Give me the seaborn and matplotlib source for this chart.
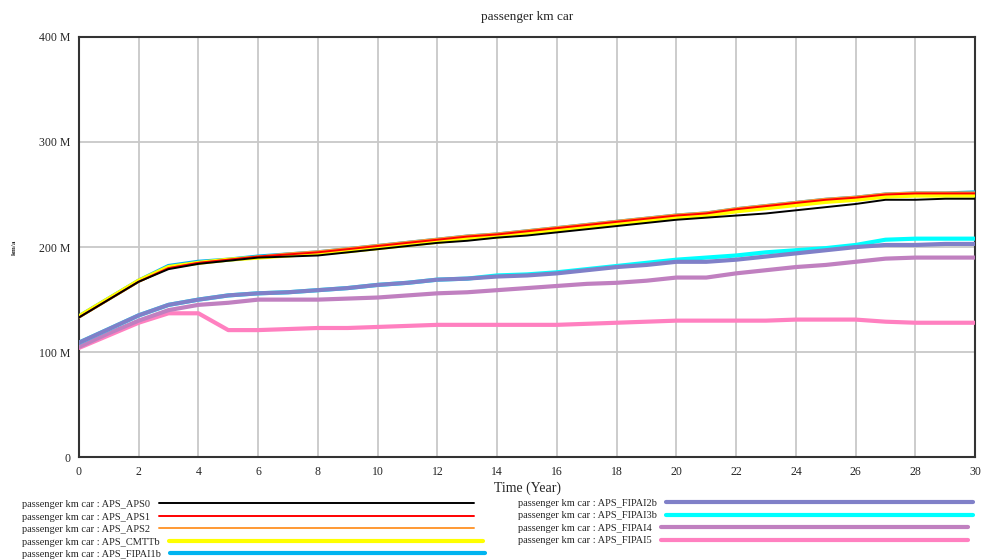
import numpy as np
import pandas as pd
import matplotlib
matplotlib.use("Agg")
import matplotlib.pyplot as plt
import seaborn as sns
from matplotlib.ticker import FuncFormatter, MultipleLocator

# dados (milhoes de passenger km)
anos = list(range(0, 31))

aps0 = [133, 150, 167, 179, 184, 187, 190, 191, 192, 195, 198, 201, 204, 206, 209, 211,
        214, 217, 220, 223, 226, 228, 230, 232, 235, 238, 241, 245, 245, 246, 246]
aps1 = [133, 150, 167, 180, 185, 188, 191, 193, 195, 198, 201, 204, 207, 210, 212, 215,
        218, 221, 224, 227, 230, 232, 236, 239, 242, 245, 247, 250, 251, 251, 251]
aps2 = [133, 150, 167, 180, 185, 188, 191, 194, 196, 199, 202, 205, 208, 211, 213, 216,
        219, 222, 225, 228, 231, 233, 237, 240, 243, 246, 248, 251, 252, 252, 252]
cmttb = [134, 151, 168, 181, 185, 188, 190, 192, 194, 196, 199, 202, 205, 208, 210, 213,
         216, 219, 222, 225, 228, 230, 234, 237, 240, 243, 245, 248, 249, 249, 249]
fipai1b = [134, 151, 168, 182, 186, 188, 191, 193, 195, 198, 201, 204, 207, 210, 212, 215,
           218, 221, 224, 227, 230, 232, 236, 239, 242, 245, 247, 250, 251, 251, 252]
fipai2b = [109, 122, 135, 145, 150, 154, 156, 157, 159, 161, 164, 166, 169, 170, 172, 173,
           175, 178, 181, 183, 186, 186, 188, 191, 194, 197, 200, 202, 202, 203, 203]
fipai3b = [109, 122, 135, 145, 150, 154, 156, 157, 159, 161, 164, 166, 169, 170, 173, 174,
           176, 179, 182, 185, 188, 190, 192, 195, 197, 199, 202, 207, 208, 208, 208]
fipai4 = [105, 118, 130, 140, 145, 147, 150, 150, 150, 151, 152, 154, 156, 157, 159, 161,
          163, 165, 166, 168, 171, 171, 175, 178, 181, 183, 186, 189, 190, 190, 190]
fipai5 = [104, 116, 128, 137, 137, 121, 121, 122, 123, 123, 124, 125, 126, 126, 126, 126,
          126, 127, 128, 129, 130, 130, 130, 130, 131, 131, 131, 129, 128, 128, 128]

cenarios = ["APS_APS0", "APS_APS1", "APS_APS2", "APS_CMTTb", "APS_FIPAI1b",
            "APS_FIPAI2b", "APS_FIPAI3b", "APS_FIPAI4", "APS_FIPAI5"]
valores = [aps0, aps1, aps2, cmttb, fipai1b, fipai2b, fipai3b, fipai4, fipai5]
cores = ["#000000", "#FF0000", "#FF9933", "#FFFF00", "#00B4F0",
         "#8080C8", "#00FFFF", "#C080C0", "#FF80C0"]
larguras = [1.4, 1.4, 1.4, 3.0, 3.0, 3.0, 3.0, 3.0, 3.0]

df = pd.DataFrame({
    "ano": anos * len(cenarios),
    "valor": [v for serie in valores for v in serie],
    "cenario": [c for c in cenarios for _ in anos],
})

sns.set_style("white")
plt.rcParams["font.family"] = ["Liberation Serif", "DejaVu Serif"]

fig = plt.figure(figsize=(9.86, 5.59), dpi=100)
ax = fig.add_axes([0.080, 0.182, 0.909, 0.752])

linhas = {}
for i, (nome, cor, lw) in enumerate(zip(cenarios, cores, larguras)):
    sns.lineplot(data=df[df["cenario"] == nome], x="ano", y="valor", color=cor,
                 linewidth=lw, ax=ax, zorder=20 - i, legend=False)
    linhas[nome] = ax.lines[-1]

ax.set_xlim(0, 30)
ax.set_ylim(0, 400)
ax.xaxis.set_major_locator(MultipleLocator(2))
ax.yaxis.set_major_locator(MultipleLocator(100))
ax.yaxis.set_major_formatter(FuncFormatter(lambda v, p: "0" if v == 0 else f"{int(v)} M"))
ax.grid(True, color="#C8C8C8", linewidth=1.3)
ax.set_axisbelow(True)
for s in ax.spines.values():
    s.set_color("#333333")
    s.set_linewidth(1.5)
ax.tick_params(length=0, labelsize=8.5, pad=6)

ax.set_title("passenger km car", fontsize=9.5, pad=12)
ax.set_xlabel("Time (Year)", fontsize=10, labelpad=3)
ax.set_ylabel("km/a", fontsize=5, fontweight="bold", labelpad=16)

# legenda em duas colunas abaixo do grafico
rotulos = [f"passenger km car : {c}" for c in cenarios]
h = [linhas[c] for c in cenarios]
leg1 = fig.legend(h[:5], rotulos[:5], loc="upper left", bbox_to_anchor=(0.022, 0.106),
                  frameon=False, fontsize=7.5, markerfirst=False, handlelength=30.2,
                  handletextpad=0.9, labelspacing=0.31, borderpad=0, borderaxespad=0)
leg2 = fig.legend(h[5:], rotulos[5:], loc="upper left", bbox_to_anchor=(0.525, 0.108),
                  frameon=False, fontsize=7.5, markerfirst=False, handlelength=29.5,
                  handletextpad=0.9, labelspacing=0.31, borderpad=0, borderaxespad=0)
# textos alinhados a esquerda como no original
for leg in (leg1, leg2):
    for col in leg._legend_handle_box.get_children():
        col.align = "left"

fig.savefig("out.png", dpi=100)
